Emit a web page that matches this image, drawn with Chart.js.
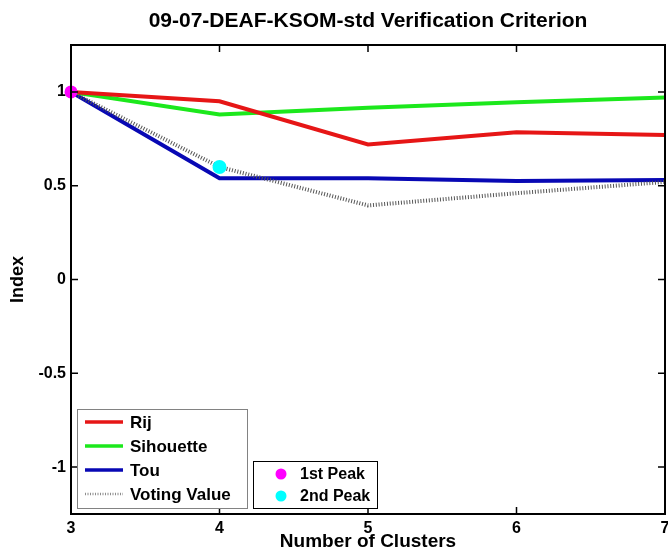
<!DOCTYPE html>
<html><head><meta charset="utf-8">
<script src="https://cdn.jsdelivr.net/npm/chart.js@4.4.0/dist/chart.umd.min.js"></script>
<style>html,body{margin:0;padding:0;background:#fff}#wrap{width:668px;height:559px;position:relative}</style>
</head><body><div id="wrap"><canvas id="c" width="668" height="559"></canvas></div>
<script>
const clusters = [3, 4, 5, 6, 7];
const rij = [1, 0.95, 0.72, 0.785, 0.77];
const sihouette = [1, 0.88, 0.915, 0.945, 0.97];
const tou = [1, 0.54, 0.54, 0.525, 0.53];
const voting = [1, 0.6, 0.395, 0.46, 0.52];
const peak1X = [3], peak1Y = [1];
const peak2X = [4], peak2Y = [0.6];
const xTicks = [3, 4, 5, 6, 7];
const yTicks = [-1, -0.5, 0, 0.5, 1];
const titleText = '09-07-DEAF-KSOM-std Verification Criterion';
const xTitle = 'Number of Clusters';
const yTitle = 'Index';
const seriesNames = ['Rij', 'Sihouette', 'Tou', 'Voting Value'];
const peakNames = ['1st Peak', '2nd Peak'];

const FONT = "'Liberation Sans', Arial, sans-serif";
const RED = 'rgb(230,22,22)', GREEN = 'rgb(28,232,28)', BLUE = 'rgb(8,8,180)', GRAY = 'rgb(85,85,85)';
const MAG = 'rgb(255,0,255)', CYAN = 'rgb(0,255,255)';

const pts = (xs, ys) => xs.map((x, i) => ({x: x, y: ys[i]}));

const framePlugin = {
  id: 'frame',
  afterDraw(chart) {
    const ctx = chart.ctx, a = chart.chartArea;
    const xs = chart.scales.x, ys = chart.scales.y;
    ctx.save();
    ctx.fillStyle = '#000';
    ctx.font = 'bold 21px ' + FONT;
    ctx.textAlign = 'center'; ctx.textBaseline = 'middle';
    ctx.fillText(titleText, (a.left + a.right) / 2, 21);
    ctx.strokeStyle = '#000'; ctx.lineWidth = 2;
    ctx.strokeRect(a.left, a.top, a.right - a.left, a.bottom - a.top);
    ctx.lineWidth = 1.5;
    const tl = 7;
    ctx.beginPath();
    xTicks.forEach(v => {
      const px = xs.getPixelForValue(v);
      ctx.moveTo(px, a.bottom); ctx.lineTo(px, a.bottom - tl);
      ctx.moveTo(px, a.top); ctx.lineTo(px, a.top + tl);
    });
    yTicks.forEach(v => {
      const py = ys.getPixelForValue(v);
      ctx.moveTo(a.left, py); ctx.lineTo(a.left + tl, py);
      ctx.moveTo(a.right, py); ctx.lineTo(a.right - tl, py);
    });
    ctx.stroke();

    ctx.fillStyle = '#fff';
    ctx.fillRect(77, 409, 170, 99);
    ctx.strokeStyle = 'rgb(130,130,130)'; ctx.lineWidth = 1;
    ctx.strokeRect(77.5, 409.5, 170, 99);
    const cols = [RED, GREEN, BLUE, 'rgb(140,140,140)'];
    const rows = [422, 446, 470, 494];
    ctx.font = 'bold 17px ' + FONT;
    ctx.textAlign = 'left'; ctx.textBaseline = 'middle';
    seriesNames.forEach((n, i) => {
      ctx.beginPath();
      ctx.strokeStyle = cols[i];
      ctx.lineWidth = i === 3 ? 2.5 : 3.5;
      ctx.setLineDash(i === 3 ? [1, 1.5] : []);
      ctx.moveTo(85, rows[i]); ctx.lineTo(123, rows[i]);
      ctx.stroke();
      ctx.setLineDash([]);
      ctx.fillStyle = '#000';
      ctx.fillText(n, 130, rows[i] + 1);
    });

    ctx.fillStyle = '#fff';
    ctx.fillRect(253, 461, 124, 47);
    ctx.strokeStyle = '#000'; ctx.lineWidth = 1;
    ctx.strokeRect(253.5, 461.5, 124, 47);
    ctx.font = 'bold 16px ' + FONT;
    const prow = [474, 496], pcol = [MAG, CYAN];
    peakNames.forEach((n, i) => {
      ctx.beginPath();
      ctx.fillStyle = pcol[i];
      ctx.arc(281, prow[i], 5.5, 0, Math.PI * 2);
      ctx.fill();
      ctx.fillStyle = '#000';
      ctx.fillText(n, 300, prow[i] + 1);
    });
    ctx.restore();
  }
};

new Chart(document.getElementById('c'), {
  type: 'line',
  data: {
    datasets: [
      {label: peakNames[0], data: pts(peak1X, peak1Y), showLine: false, pointRadius: 6.5, pointBackgroundColor: MAG, pointBorderWidth: 0, order: 0, clip: false},
      {label: peakNames[1], data: pts(peak2X, peak2Y), showLine: false, pointRadius: 7, pointBackgroundColor: CYAN, pointBorderWidth: 0, order: 0, clip: false},
      {label: seriesNames[3], data: pts(clusters, voting), borderColor: GRAY, borderWidth: 4, borderDash: [1, 1.8], pointRadius: 0, order: 1},
      {label: seriesNames[0], data: pts(clusters, rij), borderColor: RED, borderWidth: 4, pointRadius: 0, order: 2},
      {label: seriesNames[1], data: pts(clusters, sihouette), borderColor: GREEN, borderWidth: 4, pointRadius: 0, order: 3},
      {label: seriesNames[2], data: pts(clusters, tou), borderColor: BLUE, borderWidth: 4, pointRadius: 0, order: 4}
    ]
  },
  options: {
    responsive: false,
    animation: false,
    devicePixelRatio: 1,
    layout: {autoPadding: false, padding: {top: 45, right: 3, left: 0, bottom: 0}},
    plugins: {legend: {display: false}, tooltip: {enabled: false}, title: {display: false}},
    elements: {line: {tension: 0, borderCapStyle: 'butt', borderJoinStyle: 'miter'}},
    scales: {
      x: {
        type: 'linear', min: 3, max: 7,
        grid: {display: false, drawTicks: false},
        border: {display: false},
        afterBuildTicks: s => { s.ticks = xTicks.map(v => ({value: v})); },
        afterFit: s => { s.height = 45; s.paddingLeft = 0; s.paddingRight = 0; },
        ticks: {padding: 5, color: '#000', font: {family: FONT, size: 16, weight: 'bold'}, maxRotation: 0, autoSkip: false},
        title: {display: true, text: xTitle, color: '#000', font: {family: FONT, size: 19, weight: 'bold'}, padding: {top: 0, bottom: 6}}
      },
      y: {
        type: 'linear', min: -1.25, max: 1.25,
        grid: {display: false, drawTicks: false},
        border: {display: false},
        afterBuildTicks: s => { s.ticks = yTicks.map(v => ({value: v})); },
        afterFit: s => { s.width = 71; s.paddingTop = 0; s.paddingBottom = 0; },
        ticks: {padding: 5, color: '#000', font: {family: FONT, size: 16, weight: 'bold'}, callback: v => String(v)},
        title: {display: true, text: yTitle, color: '#000', font: {family: FONT, size: 18, weight: 'bold'}, padding: {top: 7, bottom: 0}}
      }
    }
  },
  plugins: [framePlugin]
});
</script>
</body></html>
